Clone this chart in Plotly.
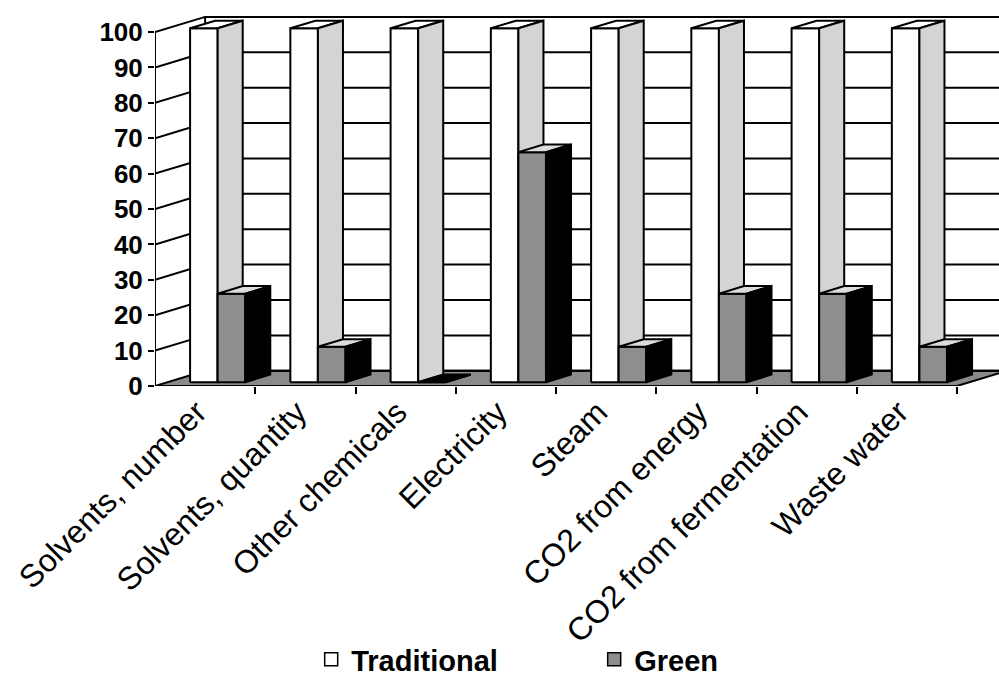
import plotly.graph_objects as go

# ---- data -------------------------------------------------------------
categories = [
    "Solvents, number",
    "Solvents, quantity",
    "Other chemicals",
    "Electricity",
    "Steam",
    "CO2 from energy",
    "CO2 from fermentation",
    "Waste water",
]
traditional = [100, 100, 100, 100, 100, 100, 100, 100]
green = [25, 10, 0, 65, 10, 25, 25, 10]
y_ticks = [0, 10, 20, 30, 40, 50, 60, 70, 80, 90, 100]

# ---- pseudo-3D geometry (in axis units) ------------------------------
DEPTH_X = 0.5      # horizontal shift from front plane to back wall (categories)
DEPTH_Y = 4.3      # vertical shift from front plane to back wall (value units)
BAR_W = 0.275      # width of one bar
BAR_NEAR = 0.25    # depth fraction of the bar front face
BAR_FAR = 0.75     # depth fraction of the bar back face
LABEL_SHIFT = -0.08  # rotated category labels sit slightly left of the centre
N = len(categories)
Y_TOP = max(y_ticks)

FONT = "Liberation Sans, Arial, sans-serif"
LINE = "black"


def add_polys(xs, ys, pts):
    for x, y in pts:
        xs.append(x)
        ys.append(y)
    xs.append(pts[0][0])
    ys.append(pts[0][1])
    xs.append(None)
    ys.append(None)


def bar_faces(x0, x1, v):
    ox, oy = BAR_NEAR * DEPTH_X, BAR_NEAR * DEPTH_Y
    fx, fy = BAR_FAR * DEPTH_X, BAR_FAR * DEPTH_Y
    front = [(x0 + ox, oy), (x1 + ox, oy), (x1 + ox, v + oy), (x0 + ox, v + oy)]
    top = [(x0 + ox, v + oy), (x1 + ox, v + oy), (x1 + fx, v + fy), (x0 + fx, v + fy)]
    side = [(x1 + ox, oy), (x1 + fx, fy), (x1 + fx, v + fy), (x1 + ox, v + oy)]
    return front, top, side


fig = go.Figure()


def poly_trace(xs, ys, fill, width=2):
    fig.add_trace(go.Scatter(
        x=xs, y=ys, mode="lines", fill="toself", fillcolor=fill,
        line=dict(color=LINE, width=width), hoverinfo="skip", showlegend=False,
    ))


def line_trace(xs, ys, width=2):
    fig.add_trace(go.Scatter(
        x=xs, y=ys, mode="lines", line=dict(color=LINE, width=width),
        hoverinfo="skip", showlegend=False,
    ))


# floor
poly_trace([0, N, N + DEPTH_X, DEPTH_X, 0], [0, 0, DEPTH_Y, DEPTH_Y, 0], "#8a8a8a", width=0)

# back wall
poly_trace([DEPTH_X, N + DEPTH_X, N + DEPTH_X, DEPTH_X, DEPTH_X],
           [DEPTH_Y, DEPTH_Y, Y_TOP + DEPTH_Y, Y_TOP + DEPTH_Y, DEPTH_Y], "white", width=2)

# gridlines on the back wall and the left side wall
gx, gy = [], []
for t in y_ticks:
    gx += [0, DEPTH_X, N + DEPTH_X, None]
    gy += [t, t + DEPTH_Y, t + DEPTH_Y, None]
line_trace(gx, gy, width=2)

# frame: value axis, front floor edge, right floor edge
line_trace([0, 0, None, 0, N, N + DEPTH_X], [0, Y_TOP, None, 0, 0, DEPTH_Y], width=2)

# bars
faces = {k: ([], []) for k in ("tf", "tt", "ts", "gf", "gt", "gs")}
for i in range(N):
    c = i + 0.5
    f, t, s = bar_faces(c - BAR_W, c, traditional[i])
    add_polys(*faces["tf"], f)
    add_polys(*faces["tt"], t)
    add_polys(*faces["ts"], s)
    f, t, s = bar_faces(c, c + BAR_W, green[i])
    add_polys(*faces["gf"], f)
    # a zero-height bar collapses to a dark slab
    add_polys(*faces["gt" if green[i] > 0 else "gs"], t)
    add_polys(*faces["gs"], s)

poly_trace(*faces["tf"], "white")
poly_trace(*faces["tt"], "white")
poly_trace(*faces["ts"], "#d4d4d4")
poly_trace(*faces["gf"], "#8e8e8e")
poly_trace(*faces["gt"], "#dcdcdc")
poly_trace(*faces["gs"], "black")

# legend entries
fig.add_trace(go.Scatter(
    x=[None], y=[None], mode="markers", name="Traditional",
    marker=dict(symbol="square", size=13, color="white", line=dict(color="black", width=1.5)),
))
fig.add_trace(go.Scatter(
    x=[None], y=[None], mode="markers", name="Green",
    marker=dict(symbol="square", size=13, color="#8e8e8e", line=dict(color="black", width=1.5)),
))

PX_PER_CAT = 100.25
PX_PER_UNIT = 3.539
PLOT_W = 999 - 155
PLOT_H = 386 - 8

fig.update_layout(
    width=999, height=677,
    margin=dict(l=155, r=0, t=8, b=677 - 386, autoexpand=False),
    paper_bgcolor="white", plot_bgcolor="white",
    font=dict(family=FONT, color="black"),
    showlegend=True,
    legend=dict(
        orientation="h", xref="container", yref="container",
        x=0.3115, y=0.026, xanchor="left", yanchor="middle",
        bgcolor="rgba(0,0,0,0)",
        font=dict(size=29, family=FONT, weight="bold"),
        entrywidth=238, entrywidthmode="pixels",
    ),
    xaxis=dict(
        range=[0, PLOT_W / PX_PER_CAT],
        automargin=False,
        tickmode="array",
        tickvals=[i + 0.5 + LABEL_SHIFT for i in range(N)],
        ticktext=categories,
        tickangle=-45,
        ticks="",
        tickfont=dict(size=32, family=FONT),
        showgrid=False, zeroline=False, showline=False,
        minor=dict(tickmode="array", tickvals=list(range(1, N + 1)),
                   ticks="outside", ticklen=7, tickwidth=2, tickcolor="black", showgrid=False),
    ),
    yaxis=dict(
        range=[0, PLOT_H / PX_PER_UNIT],
        automargin=False,
        tickmode="array",
        tickvals=y_ticks,
        ticks="outside", ticklen=6, tickwidth=2, tickcolor="black",
        tickfont=dict(size=26, family=FONT, weight="bold"),
        showgrid=False, zeroline=False, showline=False,
    ),
)

fig.write_html("out.html")
